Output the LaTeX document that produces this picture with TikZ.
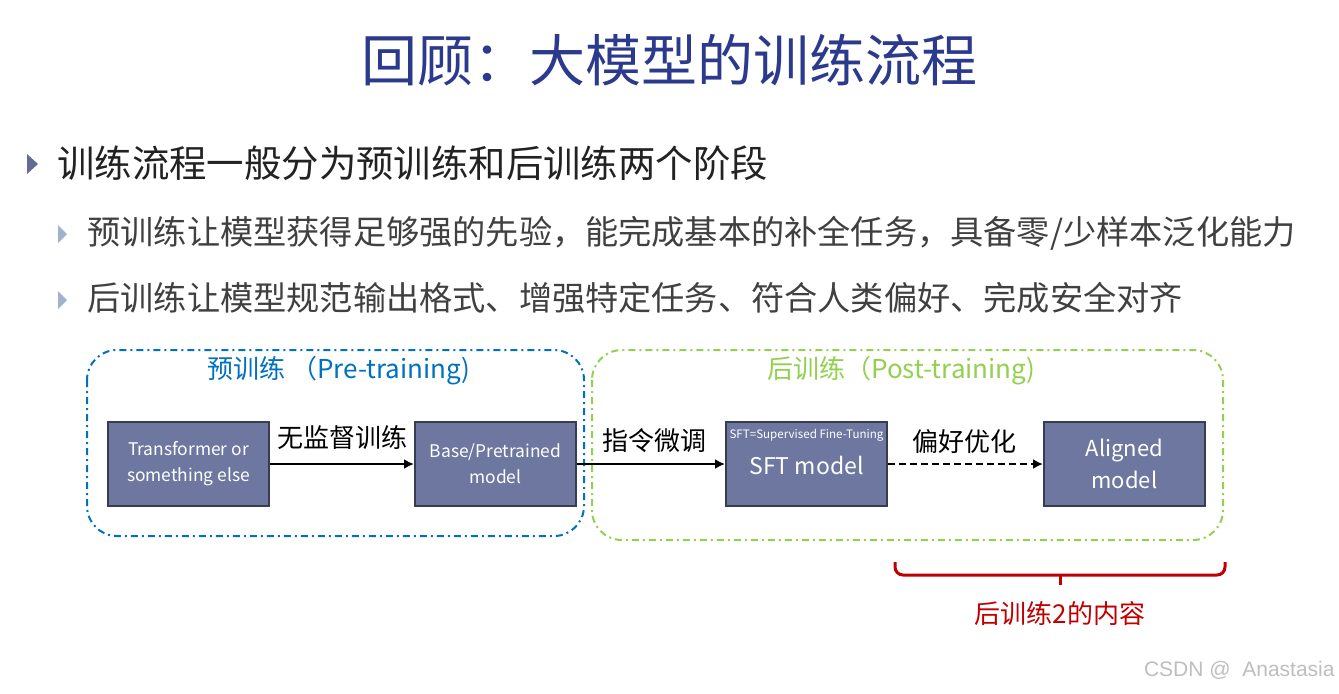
\documentclass[tikz,border=0pt]{standalone}
\usepackage{fontspec}
\setmainfont{Noto Sans CJK SC}
\newfontfamily\wmfont{Liberation Sans}
\usetikzlibrary{arrows.meta}
\definecolor{titleblue}{RGB}{44,58,142}
\definecolor{preblue}{RGB}{0,112,192}
\definecolor{postgreen}{RGB}{146,208,80}
\definecolor{boxfill}{RGB}{109,119,160}
\definecolor{boxborder}{RGB}{55,60,78}
\definecolor{bracered}{RGB}{192,0,0}
\definecolor{bulletdark}{RGB}{100,108,150}
\definecolor{bulletlight}{RGB}{160,178,204}
\definecolor{textdark}{RGB}{34,34,34}
\definecolor{textgray}{RGB}{64,64,64}
\definecolor{wmgray}{RGB}{190,190,190}
\tikzset{
  mbox/.style={draw=boxborder, fill=boxfill, line width=1pt, minimum width=80.5pt,
    minimum height=42pt, inner sep=0pt, text=white, align=center},
  grpframe/.style={line width=1pt, rounded corners=15pt,
    dash pattern=on 3.5pt off 2pt on 1pt off 2pt},
  arr/.style={line width=1.4pt, -{Latex[length=5pt,width=5pt]}},
  dasharr/.style={arr, dash pattern=on 3.5pt off 2pt},
  steplabel/.style={font=\fontsize{13}{15}\selectfont, text=black, inner sep=0pt},
}
\begin{document}
\begin{tikzpicture}[x=0.5pt,y=-0.5pt]
\useasboundingbox (0,0) rectangle (1339,693);
\fill[white] (0,0) rectangle (1339,693);

% title
\node[font=\fontsize{28}{32}\selectfont, text=titleblue, inner sep=0pt] (title) at (669,60) {回顾：大模型的训练流程};

% bullets
\fill[bulletdark] (27,154) -- (38,164) -- (27,174) -- cycle;
\node[anchor=west, inner sep=0pt, font=\fontsize{18.7}{20}\selectfont, text=textdark] (b1) at (57,163) {训练流程一般分为预训练和后训练两个阶段};
\fill[bulletlight] (58,225) -- (67,234) -- (58,243) -- cycle;
\node[anchor=west, inner sep=0pt, font=\fontsize{16.6}{19}\selectfont, text=textgray] (b2) at (87,233) {预训练让模型获得足够强的先验，能完成基本的补全任务，具备零/少样本泛化能力};
\fill[bulletlight] (58,291) -- (67,300) -- (58,309) -- cycle;
\node[anchor=west, inner sep=0pt, font=\fontsize{16.6}{19}\selectfont, text=textgray] (b3) at (87,298) {后训练让模型规范输出格式、增强特定任务、符合人类偏好、完成安全对齐};

% group frames
\draw[grpframe, preblue] (87,350) rectangle (584,536);
\draw[grpframe, postgreen] (592,350) rectangle (1223,540);
\node[anchor=west, inner sep=0pt, font=\fontsize{13}{15}\selectfont, text=preblue] (prelbl) at (207,371) {预训练 （Pre-training)};
\node[anchor=west, inner sep=0pt, font=\fontsize{13}{15}\selectfont, text=postgreen] (postlbl) at (767,371) {后训练（Post-training)};

% model boxes
\node[mbox, font=\fontsize{8.7}{13}\selectfont] (m1) at (188.5,464) {Transformer or\\something else};
\node[mbox, font=\fontsize{8.7}{13}\selectfont] (m2) at (495.5,464) {Base/Pretrained\\model};
\node[mbox] (m3) at (806.5,464) {};
\node[font=\fontsize{5.8}{7}\selectfont, text=white, inner sep=0pt] (m3note) at (806.5,435) {SFT=Supervised Fine-Tuning};
\node[font=\fontsize{11.5}{14}\selectfont, text=white, inner sep=0pt] (m3lbl) at (806.5,465) {SFT model};
\node[mbox, font=\fontsize{11}{16}\selectfont] (m4) at (1124.5,464) {Aligned\\model};

% connectors
\draw[arr] (m1) -- (m2);
\draw[arr] (m2) -- (m3);
\draw[dasharr] (m3) -- (m4);
\node[steplabel] (l1) at (342,438) {无监督训练};
\node[steplabel] (l2) at (654,441) {指令微调};
\node[steplabel] (l3) at (964,442) {偏好优化};

% brace
\draw[bracered, line width=1.5pt, rounded corners=4pt] (895,562) -- (895,575) -- (1225,575) -- (1225,562);
\coordinate (bmid) at (1060,575);
\coordinate (btip) at (1060,585);
\draw[bracered, line width=1.5pt] (bmid) -- (btip);
\node[font=\fontsize{13}{15}\selectfont, text=bracered, inner sep=0pt] (post2) at (1060,614) {后训练2的内容};

% watermark
\node[anchor=east, inner sep=0pt, font=\wmfont\fontsize{10.5}{12}\selectfont, text=wmgray] (wm) at (1335,670) {CSDN @\ \ Anastasia};
\end{tikzpicture}
\end{document}
